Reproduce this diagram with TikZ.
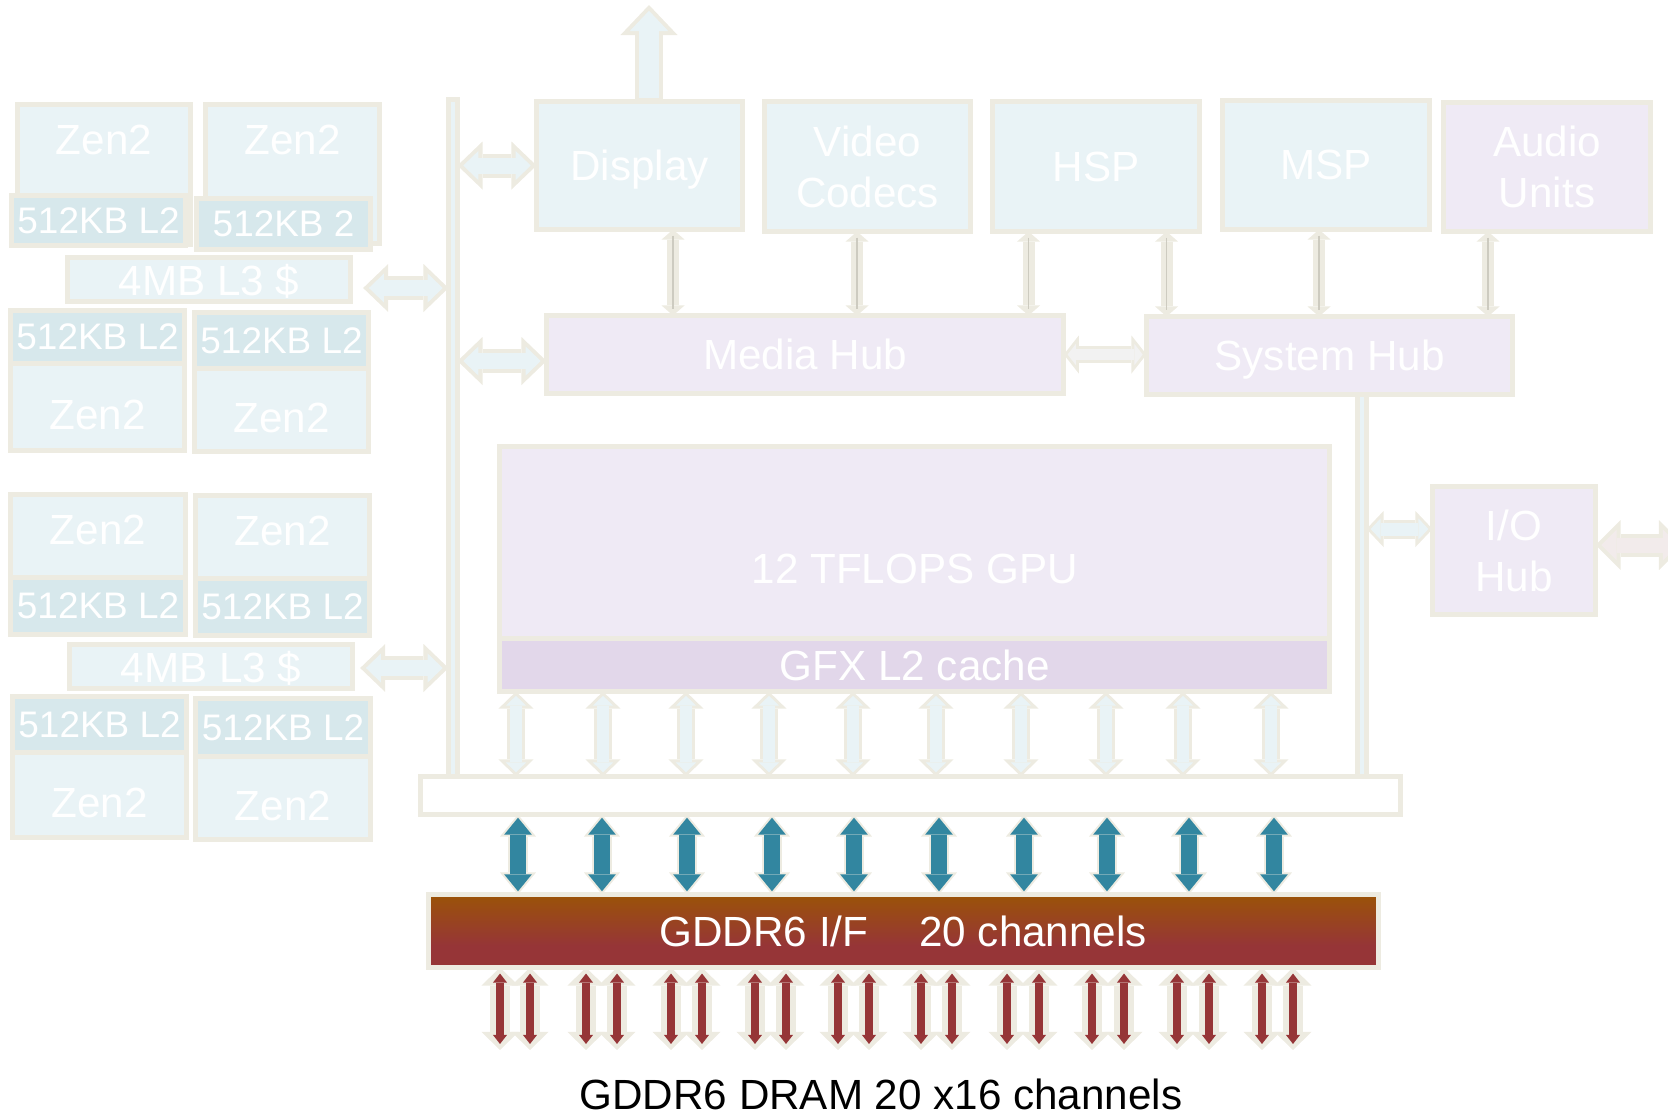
\documentclass[tikz,border=0pt]{standalone}
\usepackage{fontspec}
\setmainfont{Liberation Sans}
\usetikzlibrary{arrows.meta,positioning,calc}

\definecolor{rim}{RGB}{237,235,225}
\definecolor{lblue}{RGB}{233,243,246}
\definecolor{l2blue}{RGB}{215,232,236}
\definecolor{lav}{RGB}{239,234,245}
\definecolor{gfxlav}{RGB}{226,215,234}
\definecolor{chan}{RGB}{50,134,160}
\definecolor{dred}{RGB}{150,53,55}
\definecolor{gtop}{RGB}{155,83,8}
\definecolor{lgrey}{RGB}{242,242,242}
\definecolor{lpink}{RGB}{242,235,235}
\definecolor{hair}{RGB}{205,203,192}
\pgfdeclareverticalshading{gddr}{100bp}{color(0bp)=(dred); color(40bp)=(dred); color(75bp)=(gtop); color(100bp)=(gtop)}

\begin{document}
\begin{tikzpicture}[
  x=0.01cm, y=-0.01cm,
  box/.style={draw=rim, line width=0.5mm, inner sep=0pt, outer sep=0pt, text=white,
              align=center, text depth=0pt, font=\fontsize{12}{14.5}\selectfont},
  zen/.style={box, fill=lblue, minimum width=1.74cm},
  zenhi/.style={zen, text depth=0.69cm},
  zenup/.style={zen, text depth=0.12cm},
  zenlo/.style={zen, text height=0.46cm},
  l2/.style={box, fill=l2blue, minimum width=1.74cm, font=\fontsize{10.5}{12}\selectfont},
  l3/.style={box, fill=lblue, minimum width=2.83cm, minimum height=0.44cm},
  unit/.style={box, fill=lblue, anchor=north west},
  hub/.style={box, fill=lav, anchor=north west},
  bar/.style={box, fill=lblue, anchor=north west},
  dbl/.style n args={8}{
    preaction={draw=rim, line width=#2, shorten <=0pt, shorten >=0pt,
      arrows={Triangle[width=#3,length=#4,line width=0pt]-Triangle[width=#3,length=#4,line width=0pt]}},
    draw=#1, line width=#5, shorten <=#8, shorten >=#8,
    arrows={Triangle[width=#6,length=#7,line width=0pt]-Triangle[width=#6,length=#7,line width=0pt]}},
  busarr/.style={dbl={lblue}{2.4mm}{4.8mm}{2.5mm}{1.6mm}{2.9mm}{1.5mm}{0.58mm}},
  hubarr/.style={dbl={lgrey}{1.7mm}{3.8mm}{1.5mm}{1.1mm}{2.1mm}{0.82mm}{0.38mm}},
  smallarr/.style={dbl={lblue}{1.9mm}{3.6mm}{1.7mm}{1.3mm}{2.1mm}{0.99mm}{0.41mm}},
  ioarr/.style={dbl={lpink}{2.3mm}{5mm}{2.5mm}{1.5mm}{3.06mm}{1.53mm}{0.57mm}},
  gpuarr/.style={dbl={lblue}{1.8mm}{3.5mm}{1.7mm}{1.2mm}{2.02mm}{0.98mm}{0.42mm}},
  chanarr/.style={dbl={chan}{2mm}{3.6mm}{2.2mm}{1.6mm}{2.75mm}{1.68mm}{0.32mm}},
  dramarr/.style={dbl={dred}{1.9mm}{3.7mm}{1.8mm}{0.8mm}{1.4mm}{0.9mm}{0.6mm}},
  uparr/.style={
    preaction={draw=rim, line width=2.8mm, shorten <=0pt, shorten >=0pt,
      arrows=-{Triangle[width=5.7mm,length=3mm,line width=0pt]}},
    draw=lblue, line width=2mm, shorten <=0.3mm, shorten >=0.58mm,
    arrows=-{Triangle[width=3.84mm,length=2.02mm,line width=0pt]}},
  thinarr/.style={draw=rim, line width=1.2mm,
    arrows={Triangle[width=2.3mm,length=1mm,line width=0pt]-Triangle[width=2.3mm,length=1mm,line width=0pt]},
    postaction={draw=hair, line width=0.35pt, arrows=-, shorten <=0.6mm, shorten >=0.6mm}}
]
\useasboundingbox (0,0) rectangle (1668,1113);

% CPU cluster 1
\node[zenhi, minimum width=1.73cm, minimum height=1.40cm, anchor=north west] (z1a) at (17.5,104.5) {Zen2};
\node[zenhi, minimum height=1.39cm, anchor=north west] (z1b) at (205.5,104.5) {Zen2};
\node[l2, minimum height=0.50cm, anchor=north west] (c1a) at (11.5,195.5) {512KB L2};
\node[l2, minimum height=0.51cm, anchor=north west] (c1b) at (196.5,198.5) {512KB 2};
\node[l3, anchor=north west] (l3a) at (67.5,257.5) {4MB L3 \$};
\node[l2, minimum height=0.525cm, anchor=north west] (c1c) at (10.5,310.5) {512KB L2};
\node[zenlo, minimum height=0.875cm, below=0pt of c1c] (z1c) {Zen2};
\node[l2, minimum height=0.555cm, anchor=north west] (c1d) at (194.5,312.5) {512KB L2};
\node[zenlo, minimum height=0.835cm, below=0pt of c1d] (z1d) {Zen2};

% CPU cluster 2
\node[zenup, minimum width=1.75cm, minimum height=0.825cm, anchor=north west] (z2a) at (10.5,494.5) {Zen2};
\node[l2, minimum width=1.75cm, minimum height=0.575cm, below=0pt of z2a] (c2a) {512KB L2};
\node[zenup, minimum height=0.825cm, anchor=north west] (z2b) at (195.5,495.5) {Zen2};
\node[l2, minimum height=0.575cm, below=0pt of z2b] (c2b) {512KB L2};
\node[l3, anchor=north west] (l3b) at (69.5,644.5) {4MB L3 \$};
\node[l2, minimum height=0.555cm, anchor=north west] (c2c) at (12.5,696.5) {512KB L2};
\node[zenlo, minimum height=0.855cm, below=0pt of c2c] (z2c) {Zen2};
\node[l2, minimum width=1.75cm, minimum height=0.575cm, anchor=north west] (c2d) at (195.5,698.5) {512KB L2};
\node[zenlo, minimum width=1.75cm, minimum height=0.835cm, below=0pt of c2d] (z2d) {Zen2};

% buses
\node[bar, minimum width=0.09cm, minimum height=6.78cm] (lbus) at (448.5,99.5) {};
\node[bar, minimum width=0.09cm, minimum height=3.82cm] (rbus) at (1357.5,394.5) {};
\node[box, fill=white, anchor=north west, minimum width=9.79cm, minimum height=0.38cm] (bbar) at (420.5,776.5) {};

% units and hubs
\node[unit, minimum width=2.06cm, minimum height=1.28cm] (disp) at (536.5,101.5) {Display};
\node[unit, minimum width=2.06cm, minimum height=1.30cm] (vcod) at (764.5,101.5) {Video\\Codecs};
\node[unit, minimum width=2.07cm, minimum height=1.30cm] (hsp) at (992.5,101.5) {HSP};
\node[unit, minimum width=2.07cm, minimum height=1.29cm] (msp) at (1222.5,100.5) {MSP};
\node[hub, minimum width=2.07cm, minimum height=1.29cm] (aud) at (1443.5,102.5) {Audio\\Units};
\node[hub, minimum width=5.17cm, minimum height=0.78cm] (mhub) at (546.5,315.5) {Media Hub};
\node[hub, minimum width=3.66cm, minimum height=0.78cm] (shub) at (1146.5,316.5) {System Hub};
\node[hub, minimum width=8.30cm, minimum height=2.45cm] (gpu) at (499.5,446.5) {12 TFLOPS GPU};
\node[hub, fill=gfxlav, minimum width=8.30cm, minimum height=0.53cm] (gfx) at (499.5,638.5) {GFX L2 cache};
\node[hub, minimum width=1.63cm, minimum height=1.28cm] (iohub) at (1432.5,486.5) {I/O\\Hub};
\node[box, anchor=north west, shade, shading=gddr, minimum width=9.49cm, minimum height=0.73cm] (gddr) at (428.5,894.5) {GDDR6 I/F\hspace{5.1mm}20 channels};
\node[font=\fontsize{12}{14}\selectfont, inner sep=0pt] (dram) at (881,1094) {GDDR6 DRAM 20 x16 channels};

\coordinate (dispout) at (649,5);
\coordinate (ioout) at (1684,0);
\coordinate (dramtop) at (0,1050);

% connectors
\draw[uparr] (disp.north -| dispout) -- (dispout);
\draw[busarr] (lbus.east |- disp.west) -- (disp.west);
\draw[busarr] ($(lbus.east |- mhub.west)+(0,6.5)$) -- ($(mhub.west)+(0,6.5)$);
\draw[busarr] ($(l3a.east)+(12.5,8.5)$) -- ($(l3a.east -| lbus.west)+(0,8.5)$);
\draw[busarr] ($(l3b.east)+(7.5,1.5)$) -- ($(l3b.east -| lbus.west)+(0,1.5)$);
\draw[hubarr] (mhub.east) -- (mhub.east -| shub.west);
\draw[smallarr] ($(rbus.east |- iohub.west)+(0,-21.5)$) -- ($(iohub.west)+(0,-21.5)$);
\draw[ioarr] ($(iohub.east)+(0,-5.5)$) -- ($(iohub.east -| ioout)+(0,-5.5)$);

\foreach \a/\b/\off in {disp/mhub/33.5, vcod/mhub/-10.5, hsp/mhub/-67.5, hsp/shub/70.5, msp/shub/-7, aud/shub/-59}
  \draw[thinarr] let \p1=($(\a.south)+(\off,0)$), \p2=(\b.north) in (\p1) -- (\x1,\y2);

\foreach \gx/\tx/\ra/\rb in {516/518/500/530, 603/602/586/617, 686/687/671/702, 769/772/755/786,
    853/854/838/869, 936/939/921/952, 1021/1024/1007/1039, 1106/1107/1092/1124,
    1183/1189/1177/1209, 1271/1274/1262/1293}{
  \draw[gpuarr] (gpu.south -| \gx,0) -- (bbar.north -| \gx,0);
  \draw[chanarr] (bbar.south -| \tx,0) -- (gddr.north -| \tx,0);
  \draw[dramarr] (gddr.south -| \ra,0) -- (dramtop -| \ra,0);
  \draw[dramarr] (gddr.south -| \rb,0) -- (dramtop -| \rb,0);
}
\end{tikzpicture}
\end{document}
